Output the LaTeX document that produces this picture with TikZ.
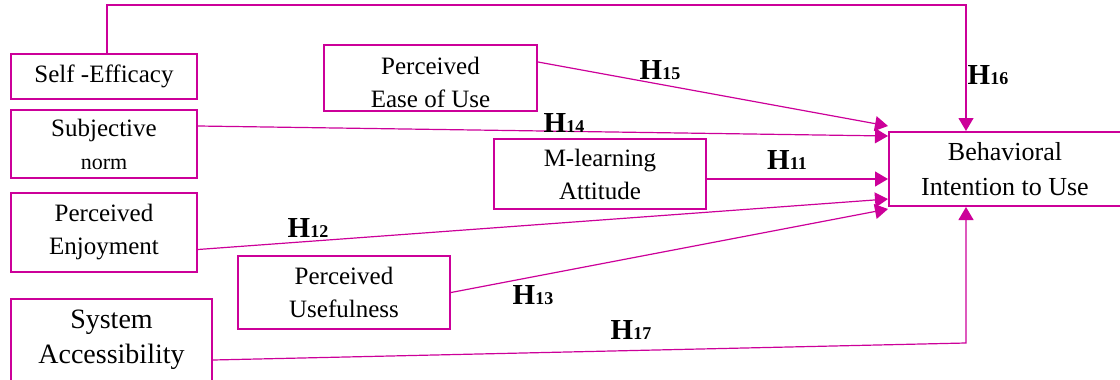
\documentclass[tikz,border=0pt]{standalone}
\usepackage{fontspec}
\setmainfont{Liberation Serif}
\usetikzlibrary{arrows.meta}
\definecolor{mag}{RGB}{204,0,153}
\tikzset{
  box/.style={draw=mag, line width=2pt, align=center, inner sep=0pt, font=\fontsize{25}{33}\selectfont},
  conn/.style={draw=mag, line width=1.2pt},
  arr/.style={conn, -{Triangle[length=13pt,width=15pt]}},
  hlab/.style={inner sep=0pt, font=\fontsize{29}{29}\selectfont\bfseries},
}
\newcommand{\hyp}[1]{H{\fontsize{18}{18}\selectfont #1}}
\begin{document}
\begin{tikzpicture}[x=1pt,y=-1pt]
\useasboundingbox (0,0) rectangle (1120,380);
% boxes
\node[box, minimum width=186pt, minimum height=45pt] (se) at (104,76.5) {Self -Efficacy};
\node[box, minimum width=186pt, minimum height=68pt] (sn) at (104,144) {Subjective\\{\fontsize{22}{22}\selectfont norm}};
\node[box, minimum width=186pt, minimum height=79pt] (pe) at (104,232.5) {Perceived\\Enjoyment};
\node[box, minimum width=201pt, minimum height=82pt, font=\fontsize{28}{35}\selectfont] (sa) at (111.5,340) {System\\Accessibility};
\node[box, minimum width=213pt, minimum height=66pt] (peou) at (430.5,78) {\rule{0pt}{27pt}Perceived\\Ease of Use};
\node[box, minimum width=212pt, minimum height=70pt] (ml) at (600,174) {M-learning\\Attitude};
\node[box, minimum width=212pt, minimum height=73pt] (pu) at (344,292.5) {Perceived\\Usefulness};
\node[box, minimum width=232pt, minimum height=74pt, font=\fontsize{26}{35}\selectfont] (bi) at (1005,169) {Behavioral\\Intention to Use};
% route coordinates
\coordinate (t2) at (966,5);
\coordinate (c17) at (966,343);
% connectors
\draw[arr] ([xshift=3pt]se.north) |- (t2) -- (bi.north -| t2);
\draw[arr] ([yshift=-18pt]peou.north east) -- ([yshift=5pt]bi.north west);
\draw[arr] ([yshift=18pt]sn.east) -- ([yshift=-5pt]bi.north west);
\draw[arr] ([yshift=-5pt]ml.east) -- ([yshift=-10pt]bi.west);
\draw[arr] ([yshift=-17pt]pe.east) -- ([yshift=8pt]bi.south west);
\draw[arr] (pu.east) -- ([yshift=-2pt]bi.south west);
\draw[arr] ([yshift=-20pt]sa.east) -- (c17) -- (bi.south -| c17);
% labels
\node[hlab] (h15) at (660,70) {\hyp{15}};
\node[hlab] (h16) at (988,75) {\hyp{16}};
\node[hlab] (h14) at (564,123) {\hyp{14}};
\node[hlab] (h11) at (787,160) {\hyp{11}};
\node[hlab] (h12) at (308,228) {\hyp{12}};
\node[hlab] (h13) at (533,295) {\hyp{13}};
\node[hlab] (h17) at (631,330) {\hyp{17}};
\end{tikzpicture}
\end{document}
